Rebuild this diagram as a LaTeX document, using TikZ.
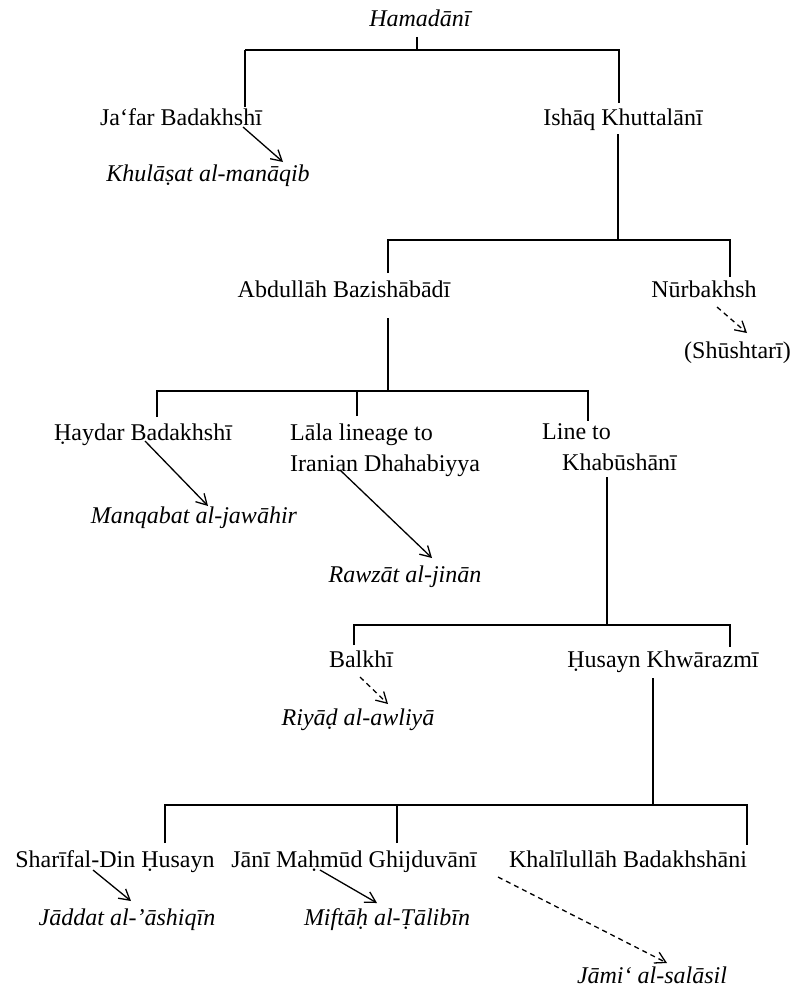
\documentclass[tikz,border=0pt]{standalone}
\usepackage{fontspec}
\setmainfont{Liberation Serif}
\usetikzlibrary{arrows.meta}
\begin{document}
\begin{tikzpicture}[x=1pt,y=-1pt,
  person/.style={font=\fontsize{24}{31}\selectfont, inner sep=0pt, anchor=base},
  work/.style={person, font=\fontsize{24}{31}\selectfont\itshape},
  multi/.style={font=\fontsize{24}{31}\selectfont, inner sep=0pt, anchor=north west, align=left},
  tree/.style={line width=1.1pt},
  thickstem/.style={line width=2.8pt},
  arr/.style={line width=1.3pt, -{Straight Barb[length=10.5pt,width=12pt,line width=1.3pt]}},
  darr/.style={arr, dash pattern=on 5pt off 4pt}]
\useasboundingbox (0,0) rectangle (791,990);

% people and works
\node[work]   (ham)  at (420,27)  {Hamadānī};
\node[person] (ja)   at (181,125) {Ja‘far Badakhshī};
\node[person] (is)   at (623,125) {Ishāq Khuttalānī};
\node[work]   (khu)  at (208,181) {Khulāṣat al-manāqib};
\node[person] (ab)   at (344,297) {Abdullāh Bazishābādī};
\node[person] (nur)  at (704,297) {Nūrbakhsh};
\node[person, anchor=base west] (shu) at (684,358) {(Shūshtarī)};
\node[person] (hay)  at (143,440) {Ḥaydar Badakhshī};
\node[multi]  (lala) at (290,423.7) {Lāla lineage to\\Iranian Dhahabiyya};
\node[multi]  (line) at (542,423.7) {Line to\\\hspace*{20pt}Khabūshānī};
\node[work]   (man)  at (194,523) {Manqabat al-jawāhir};
\node[work]   (raw)  at (405,582) {Rawzāt al-jinān};
\node[person] (bal)  at (361,667) {Balkhī};
\node[person] (hus)  at (663,667) {Ḥusayn Khwārazmī};
\node[work]   (riy)  at (358,725) {Riyāḍ al-awliyā};
\node[person] (sha)  at (115,867) {Sharīfal-Din Ḥusayn};
\node[person] (jani) at (354,867) {Jānī Maḥmūd Ghijduvānī};
\node[person] (kha)  at (628,867) {Khalīlullāh Badakhshāni};
\node[work]   (jad)  at (127,925) {Jāddat al-’āshiqīn};
\node[work]   (mif)  at (387,925) {Miftāḥ al-Ṭālibīn};
\node[work]   (jam)  at (652,983) {Jāmi‘ al-salāsil};

% level 1
\draw[tree] ([shift={(-3,10)}]ham.base) -- ++(0,13) coordinate (j1);
\coordinate (ja-up) at ([shift={(64,-18)}]ja.base);
\coordinate (is-up) at ([shift={(-4,-22)}]is.base);
\draw[thickstem] (ja-up) -- (ja-up |- j1);
\draw[tree] (ja-up |- j1) -- (is-up |- j1) -- (is-up);

% level 2
\draw[tree] ([shift={(-5,9)}]is.base) -- ++(0,106) coordinate (j2);
\coordinate (ab-up) at ([shift={(44,-24)}]ab.base);
\coordinate (nur-up) at ([shift={(26,-20)}]nur.base);
\draw[tree] (ab-up) -- (ab-up |- j2) -- (nur-up |- j2) -- (nur-up);

% level 3
\draw[tree] ([shift={(44,21)}]ab.base) -- ++(0,73) coordinate (j3);
\coordinate (hay-up) at ([shift={(14,-23)}]hay.base);
\coordinate (lala-up) at ([shift={(67,-7.7)}]lala.north west);
\coordinate (line-up) at ([shift={(46,-2.7)}]line.north west);
\draw[tree] (hay-up) -- (hay-up |- j3) -- (line-up |- j3) -- (line-up);
\draw[tree] (lala-up) -- (lala-up |- j3);

% level 4
\draw[tree] ([shift={(65,53.3)}]line.north west) -- ++(0,148) coordinate (j4);
\coordinate (bal-up) at ([shift={(-7,-22)}]bal.base);
\coordinate (hus-up) at ([shift={(67,-20)}]hus.base);
\draw[tree] (bal-up) -- (bal-up |- j4) -- (hus-up |- j4) -- (hus-up);

% level 5
\draw[tree] ([shift={(-10,11)}]hus.base) -- ++(0,127) coordinate (j5);
\coordinate (sha-up) at ([shift={(50,-24)}]sha.base);
\coordinate (jani-up) at ([shift={(43,-24)}]jani.base);
\coordinate (kha-up) at ([shift={(119,-22)}]kha.base);
\draw[tree] (sha-up) -- (sha-up |- j5) -- (kha-up |- j5) -- (kha-up);
\draw[tree] (jani-up) -- (jani-up |- j5);

% works arrows
\draw[arr]  ([shift={(62,2)}]ja.base) -- ([shift={(75,-19)}]khu.base);
\draw[darr] ([shift={(13,10)}]nur.base) -- ([shift={(63,-25)}]shu.base west);
\draw[arr]  ([shift={(2,1)}]hay.base) -- ([shift={(14,-17)}]man.base);
\draw[arr]  ([shift={(50,46.3)}]lala.north west) -- ([shift={(27,-24)}]raw.base);
\draw[darr] ([shift={(-1,10)}]bal.base) -- ([shift={(30,-21)}]riy.base);
\draw[arr]  ([shift={(-22,3)}]sha.base) -- ([shift={(4,-24)}]jad.base);
\draw[arr]  ([shift={(-34,3)}]jani.base) -- ([shift={(-10,-22)}]mif.base);
\draw[darr] ([shift={(-130,10)}]kha.base) -- ([shift={(15,-20)}]jam.base);
\end{tikzpicture}
\end{document}
